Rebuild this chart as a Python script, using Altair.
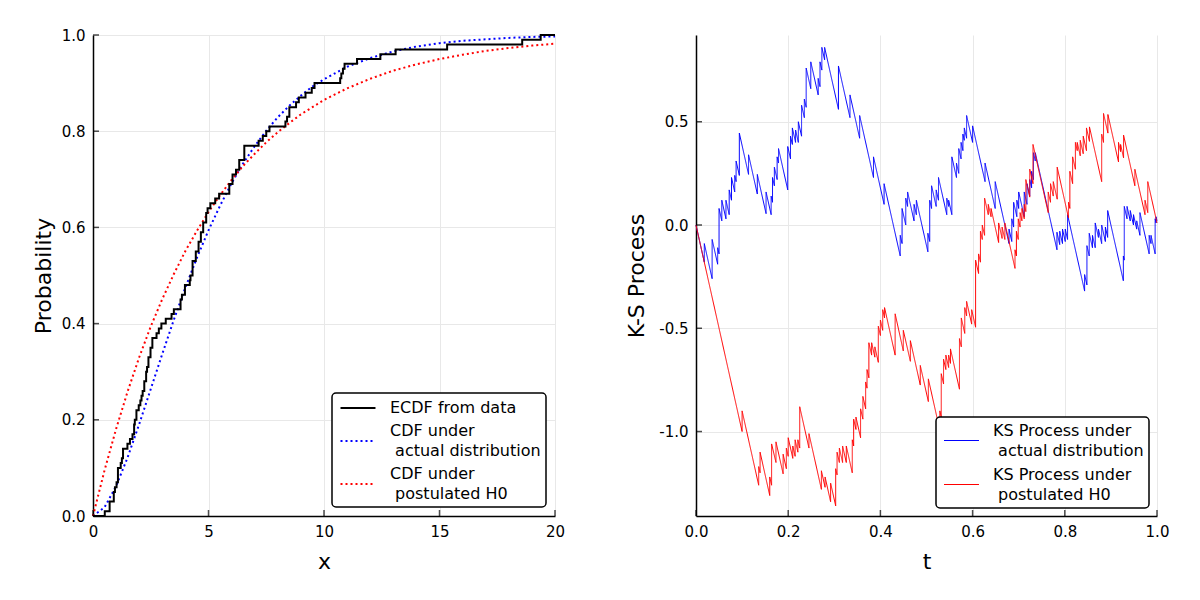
import altair as alt
import pandas as pd

FONT = "DejaVu Sans"

# ---------------- left panel data ----------------
ecdf_x = [0.00, 0.51, 0.72, 0.90, 0.95, 1.02, 1.08, 1.20, 1.25, 1.30, 1.49, 1.60, 1.71, 1.78,
          1.81, 1.88, 1.98, 2.05, 2.10, 2.15, 2.22, 2.30, 2.34, 2.40, 2.49, 2.57, 2.75, 2.85,
          2.96, 3.15, 3.40, 3.50, 3.79, 3.85, 3.98, 4.19, 4.22, 4.31, 4.45, 4.57, 4.67, 4.77,
          4.90, 4.96, 5.08, 5.29, 5.46, 5.90, 6.04, 6.19, 6.33, 6.55, 7.17, 7.35, 7.50, 7.64,
          8.33, 8.40, 8.50, 8.79, 8.91, 9.20, 9.47, 9.59, 10.70, 10.75, 10.82, 10.89, 11.43,
          12.44, 13.10, 15.33, 18.58, 19.38, 20.00]
ecdf_p = [0.00, 0.01, 0.03, 0.05, 0.06, 0.07, 0.10, 0.11, 0.12, 0.14, 0.15, 0.16, 0.17, 0.19,
          0.20, 0.22, 0.23, 0.24, 0.25, 0.26, 0.28, 0.30, 0.31, 0.33, 0.35, 0.37, 0.38, 0.39,
          0.40, 0.41, 0.42, 0.43, 0.45, 0.46, 0.48, 0.49, 0.50, 0.53, 0.55, 0.57, 0.59, 0.61,
          0.63, 0.64, 0.65, 0.66, 0.67, 0.69, 0.71, 0.72, 0.74, 0.77, 0.78, 0.79, 0.80, 0.81,
          0.82, 0.83, 0.85, 0.86, 0.87, 0.88, 0.89, 0.90, 0.91, 0.92, 0.93, 0.94, 0.95,
          0.96, 0.97, 0.98, 0.99, 1.00, 1.00]

cdf_x = [0, 0.5, 1, 1.5, 2, 2.5, 3, 3.5, 4, 4.5, 5, 5.5, 6, 6.5, 7, 7.5, 8, 8.5, 9, 9.5, 10,
         11, 12, 13, 14, 15, 16, 17, 18, 19, 20]
cdf_actual = [0.000, 0.018, 0.062, 0.122, 0.191, 0.264, 0.337, 0.408, 0.475, 0.537, 0.594,
              0.645, 0.692, 0.733, 0.769, 0.801, 0.829, 0.853, 0.874, 0.893, 0.908,
              0.934, 0.952, 0.966, 0.976, 0.983, 0.988, 0.991, 0.994, 0.996, 0.997]
cdf_h0 = [0.000, 0.095, 0.181, 0.259, 0.330, 0.394, 0.451, 0.503, 0.551, 0.593, 0.632,
          0.667, 0.699, 0.728, 0.753, 0.777, 0.798, 0.817, 0.835, 0.850, 0.865,
          0.889, 0.909, 0.926, 0.939, 0.950, 0.959, 0.967, 0.973, 0.978, 0.982]

INDENT = "\u200b\u00a0"
left_series = ["ECDF from data", "CDF under|" + INDENT + "actual distribution",
               "CDF under|" + INDENT + "postulated H0"]
left_colors = ["black", "blue", "red"]
left_dash = [[1, 0], [2, 3], [2, 3]]
left_xticks = [0, 5, 10, 15, 20]
left_yticks = [0.0, 0.2, 0.4, 0.6, 0.8, 1.0]

# ---------------- right panel data ----------------
blue_jump_t = [0.018, 0.035, 0.047, 0.050, 0.056, 0.065, 0.072, 0.077, 0.084, 0.087, 0.094,
               0.114, 0.133, 0.152, 0.163, 0.166, 0.170, 0.176, 0.179, 0.199, 0.205, 0.209,
               0.216, 0.222, 0.229, 0.235, 0.239, 0.249, 0.265, 0.269, 0.273, 0.279, 0.309,
               0.334, 0.355, 0.385, 0.408, 0.443, 0.447, 0.455, 0.459, 0.473, 0.478, 0.503,
               0.507, 0.511, 0.521, 0.526, 0.544, 0.548, 0.555, 0.565, 0.570, 0.575, 0.579,
               0.582, 0.587, 0.600, 0.627, 0.649, 0.679, 0.685, 0.689, 0.696, 0.700, 0.712,
               0.718, 0.724, 0.728, 0.732, 0.736, 0.783, 0.789, 0.795, 0.801, 0.806, 0.843,
               0.848, 0.853, 0.860, 0.866, 0.873, 0.880, 0.888, 0.893, 0.927, 0.929, 0.935,
               0.942, 0.949, 0.956, 0.963, 0.983, 0.987, 0.996, 0.998]
blue_before = [-0.18, -0.26, -0.19, -0.14, 0.02, 0.03, 0.05, 0.12, 0.16, 0.21, 0.24,
               0.245, 0.15, 0.055, 0.05, 0.11, 0.19, 0.22, 0.30, 0.17, 0.32, 0.39,
               0.40, 0.40, 0.43, 0.52, 0.57, 0.66, 0.63, 0.67, 0.75, 0.80, 0.56,
               0.52, 0.42, 0.23, 0.10, -0.15, -0.09, 0.00, 0.09, 0.02, 0.05, -0.13,
               -0.08, 0.08, 0.09, 0.12, 0.05, 0.09, 0.05, 0.23, 0.25, 0.32, 0.36,
               0.41, 0.42, 0.40, 0.21, 0.08, -0.09, -0.08, -0.01, 0.04, 0.08, 0.04,
               0.10, 0.14, 0.18, 0.22, 0.31, -0.12, -0.095, -0.09, -0.08, -0.07, -0.32,
               -0.29, -0.15, -0.11, -0.11, -0.06, -0.09, -0.08, -0.06, -0.27, -0.17, 0.03,
               0.02, 0.00, -0.02, -0.05, -0.14, -0.09, -0.14, 0.01]
blue_after = [-0.09, -0.07, -0.11, 0.08, 0.12, 0.12, 0.17, 0.23, 0.24, 0.31, 0.445,
              0.34, 0.245, 0.16, 0.14, 0.23, 0.28, 0.33, 0.37, 0.38, 0.43, 0.47,
              0.46, 0.50, 0.58, 0.61, 0.76, 0.79, 0.71, 0.79, 0.86, 0.86, 0.77,
              0.63, 0.53, 0.33, 0.20, -0.05, 0.08, 0.13, 0.16, 0.10, 0.12, -0.04,
              0.12, 0.19, 0.17, 0.23, 0.13, 0.12, 0.33, 0.30, 0.37, 0.40, 0.44,
              0.47, 0.53, 0.48, 0.30, 0.21, -0.02, 0.03, 0.11, 0.12, 0.16, 0.16,
              0.20, 0.22, 0.26, 0.35, 0.35, -0.035, -0.03, -0.02, -0.02, 0.05, -0.24,
              -0.10, -0.04, -0.05, 0.01, -0.02, 0.00, -0.01, 0.07, -0.15, 0.09, 0.09,
              0.07, 0.05, 0.02, 0.06, -0.05, -0.05, 0.03, 0.04]
blue_end = 0.02

red_jump_t = [0.100, 0.136, 0.139, 0.160, 0.164, 0.1735, 0.189, 0.196, 0.200, 0.210, 0.215,
              0.221, 0.225, 0.245, 0.272, 0.280, 0.292, 0.303, 0.306, 0.311, 0.318, 0.326,
              0.339, 0.342, 0.347, 0.357, 0.362, 0.368, 0.371, 0.375, 0.381, 0.388, 0.3955,
              0.400, 0.405, 0.409, 0.432, 0.4497, 0.465, 0.4865, 0.504, 0.529, 0.532, 0.537,
              0.542, 0.548, 0.552, 0.5715, 0.5755, 0.583, 0.587, 0.598, 0.6065, 0.613, 0.617,
              0.621, 0.626, 0.634, 0.640, 0.6565, 0.664, 0.670, 0.692, 0.695, 0.699, 0.703,
              0.707, 0.712, 0.7155, 0.724, 0.731, 0.764, 0.769, 0.775, 0.7835, 0.808, 0.811,
              0.817, 0.823, 0.827, 0.8335, 0.840, 0.847, 0.8535, 0.880, 0.884, 0.8935, 0.9165,
              0.921, 0.9275, 0.952, 0.974, 0.980, 0.998]
red_before = [-1.00, -1.26, -1.20, -1.31, -1.26, -1.15, -1.205, -1.18, -1.12, -1.13, -1.12,
              -1.10, -1.08, -1.08, -1.28, -1.27, -1.34, -1.36, -1.21, -1.15, -1.15, -1.15,
              -1.20, -1.07, -0.99, -1.03, -0.94, -0.89, -0.79, -0.74, -0.63, -0.64, -0.665,
              -0.535, -0.51, -0.45, -0.63, -0.61, -0.66, -0.775, -0.855, -0.995, -0.93, -0.77,
              -0.70, -0.69, -0.67, -0.795, -0.59, -0.525, -0.44, -0.48, -0.495, -0.235, -0.18,
              -0.07, -0.05, 0.05, 0.04, -0.085, -0.065, -0.07, -0.21, -0.15, -0.07, -0.01,
              0.02, 0.03, 0.065, 0.135, 0.20, 0.06, 0.11, 0.14, 0.125, 0.035, 0.08,
              0.20, 0.27, 0.36, 0.335, 0.345, 0.36, 0.405, 0.21, 0.40, 0.445, 0.305,
              0.355, 0.325, 0.19, 0.05, 0.06, 0.03]
red_after = [-0.90, -1.17, -1.10, -1.22, -1.06, -1.05, -1.11, -1.08, -1.03, -1.07, -1.04,
             -1.04, -0.88, -1.01, -1.19, -1.22, -1.25, -1.18, -1.10, -1.08, -1.07, -1.07,
             -1.04, -0.94, -0.93, -0.89, -0.83, -0.76, -0.70, -0.57, -0.57, -0.59, -0.49,
             -0.46, -0.41, -0.40, -0.43, -0.51, -0.56, -0.68, -0.745, -0.90, -0.72, -0.65,
             -0.63, -0.63, -0.60, -0.55, -0.45, -0.40, -0.37, -0.41, -0.17, -0.14, -0.03,
             0.00, 0.13, 0.10, 0.08, 0.01, -0.01, 0.01, -0.12, -0.03, 0.03, 0.06,
             0.08, 0.10, 0.22, 0.27, 0.39, 0.16, 0.20, 0.21, 0.28, 0.11, 0.26,
             0.33, 0.40, 0.40, 0.41, 0.43, 0.47, 0.475, 0.44, 0.54, 0.535, 0.40,
             0.39, 0.435, 0.27, 0.12, 0.21, 0.03]
red_end = 0.01

right_series = ["KS Process under|" + INDENT + "actual distribution",
                "KS Process under|" + INDENT + "postulated H0"]
right_colors = ["blue", "red"]
right_dash = [[1, 0], [1, 0]]
right_xticks = [0.0, 0.2, 0.4, 0.6, 0.8, 1.0]
right_yticks = [-1.0, -0.5, 0.0, 0.5]


def path_rows(series, jt, before, after, end):
    rows = [(series, 0.0, 0.0)]
    for t, b, a in zip(jt, before, after):
        rows.append((series, t, b))
        rows.append((series, t, a))
    rows.append((series, 1.0, end))
    return rows


# ---------------- tables ----------------
ecdf_df = pd.DataFrame({"x": ecdf_x, "p": ecdf_p, "series": left_series[0]})
ecdf_df["i"] = range(len(ecdf_df))
cdf_df = pd.concat([
    pd.DataFrame({"x": cdf_x, "p": cdf_actual, "series": left_series[1]}),
    pd.DataFrame({"x": cdf_x, "p": cdf_h0, "series": left_series[2]}),
], ignore_index=True)
cdf_df["i"] = range(len(cdf_df))

rows = path_rows(right_series[0], blue_jump_t, blue_before, blue_after, blue_end) + \
    path_rows(right_series[1], red_jump_t, red_before, red_after, red_end)
ks_df = pd.DataFrame(rows, columns=["series", "t", "v"])
ks_df["i"] = range(len(ks_df))


def legend_for(sym_width, baseline_expr, offset, spacer=False):
    extra = {}
    if spacer:
        # an invisible one-character title adds room above the first two-line entry
        extra = dict(title="\u200b", titleFontSize=4, titlePadding=5)
    else:
        extra = dict(title=None)
    return alt.Legend(
        orient="bottom-right", offset=offset,
        labelExpr="split(datum.label, '|')",
        labelBaseline={"expr": baseline_expr},
        labelFont=FONT, labelFontSize=16, labelColor="black", labelLimit=400,
        labelOffset=22,
        symbolType="M-2,0H2", symbolSize=306, symbolStrokeWidth=sym_width,
        symbolOffset=11,
        fillColor="white", strokeColor="black", cornerRadius=4, padding=5,
        rowPadding=7, **extra,
    )


# ---------------- left panel ----------------
lx = alt.Scale(domain=[0, 20], nice=False, zero=False)
ly = alt.Scale(domain=[0, 1], nice=False, zero=False)

left_leg = legend_for(2, "datum.index > 0 ? 'line-bottom' : 'middle'", 9)
left_color = alt.Color("series:N", scale=alt.Scale(domain=left_series, range=left_colors),
                       legend=left_leg)
left_dash_enc = alt.StrokeDash("series:N", scale=alt.Scale(domain=left_series, range=left_dash),
                               legend=left_leg)

x_left = alt.X("x:Q", scale=lx, title="x",
               axis=alt.Axis(values=left_xticks, format="d"))
y_left = alt.Y("p:Q", scale=ly, title="Probability",
               axis=alt.Axis(values=left_yticks, format=".1f", titlePadding=6))

ecdf_line = alt.Chart(ecdf_df).mark_line(interpolate="step-after", strokeWidth=2).encode(
    x=x_left, y=y_left, color=left_color, strokeDash=left_dash_enc, order="i:Q")
cdf_lines = alt.Chart(cdf_df).mark_line(strokeWidth=2).encode(
    x=x_left, y=y_left, color=left_color, strokeDash=left_dash_enc, order="i:Q")

lyt = alt.Chart(pd.DataFrame({"p": left_yticks})).mark_tick(
    orient="horizontal", size=6, thickness=1.5, color="black").encode(
    y=alt.Y("p:Q", scale=ly), x=alt.value(3))
lxt = alt.Chart(pd.DataFrame({"x": left_xticks})).mark_tick(
    orient="vertical", size=6, thickness=1.5, color="black").encode(
    x=alt.X("x:Q", scale=lx), y=alt.value(478))

left = alt.layer(cdf_lines, ecdf_line, lyt, lxt).properties(width=462, height=481)

# ---------------- right panel ----------------
rx = alt.Scale(domain=[0, 1], nice=False, zero=False)
ry = alt.Scale(domain=[-1.409, 0.92], nice=False, zero=False)

right_leg = legend_for(1, "'line-bottom'", 8, spacer=True)
ks_lines = alt.Chart(ks_df).mark_line(strokeWidth=1).encode(
    x=alt.X("t:Q", scale=rx, title="t", axis=alt.Axis(values=right_xticks, format=".1f")),
    y=alt.Y("v:Q", scale=ry, title="K-S Process",
            axis=alt.Axis(values=right_yticks, format=".1f", titlePadding=10,
                          labelExpr="replace(datum.label, '\u2212', '-')")),
    color=alt.Color("series:N", scale=alt.Scale(domain=right_series, range=right_colors),
                    legend=right_leg),
    strokeDash=alt.StrokeDash("series:N", scale=alt.Scale(domain=right_series, range=right_dash),
                              legend=right_leg),
    order="i:Q",
)
ryt = alt.Chart(pd.DataFrame({"v": right_yticks})).mark_tick(
    orient="horizontal", size=6, thickness=1.5, color="black").encode(
    y=alt.Y("v:Q", scale=ry), x=alt.value(3))
rxt = alt.Chart(pd.DataFrame({"t": right_xticks})).mark_tick(
    orient="vertical", size=6, thickness=1.5, color="black").encode(
    x=alt.X("t:Q", scale=rx), y=alt.value(478))

right = alt.layer(ks_lines, ryt, rxt).properties(width=461, height=481)

chart = alt.hconcat(left, right, spacing=60).resolve_scale(
    color="independent", strokeDash="independent"
).properties(
    padding={"left": 24, "top": 20, "right": 5, "bottom": 5}
).configure(
    style={"guide-label": {"lineHeight": 20}}
).configure_view(stroke=None).configure_axis(
    labelFont=FONT, labelFontSize=15, labelColor="black", labelPadding=8,
    labelFlush=False,
    titleFont=FONT, titleFontSize=22, titleFontWeight="normal", titleColor="black",
    titlePadding=12,
    domainColor="black", domainWidth=1.5, ticks=False,
    gridColor="#e8e8e8", gridWidth=1,
).configure_legend(strokeWidth=1.5)

chart.save("out.html", embed_options={"renderer": "svg", "actions": False})
